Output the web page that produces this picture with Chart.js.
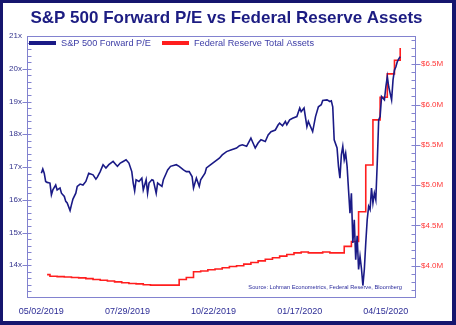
<!DOCTYPE html>
<html>
<head>
<meta charset="utf-8">
<title>S&amp;P 500 Forward P/E vs Federal Reserve Assets</title>
<script src="https://cdn.jsdelivr.net/npm/chart.js@4.4.1/dist/chart.umd.min.js"></script>
<style>
    html, body { margin: 0; padding: 0; background: #fff; }
    #wrap { position: relative; width: 456px; height: 325px; overflow: hidden; }
    #wrap canvas { position: absolute; left: 0; top: 0; }
    #edge {
        position: absolute; left: 0; top: 0; width: 456px; height: 325px;
        box-sizing: border-box; pointer-events: none;
        border: 3px solid #16166e; border-right-width: 4px; border-bottom-width: 4px;
    }
</style>
</head>
<body>
<div id="wrap">
    <canvas id="peFedChart" width="456" height="325"></canvas>
    <div id="edge"></div>
</div>
<script>
// Trading-day index (0 = 05/02/2019) and S&P 500 forward P/E
const peDay = [0, 1, 2, 3, 4, 6, 7, 8, 10, 11, 13, 14, 16, 17, 18, 20, 21, 22, 24, 25,
    27, 29, 31, 33, 36, 38, 39, 41, 43, 45, 47, 50, 52, 53, 55, 57, 59, 61, 63, 64,
    65, 66, 68, 70, 71, 73, 74, 75, 77, 78, 80, 81, 84, 85, 87, 88, 90, 94, 96, 99,
    101, 103, 105, 106, 108, 110, 111, 114, 115, 118, 121, 124, 126, 129, 132, 136, 138, 140, 143, 146,
    147, 149, 151, 153, 156, 158, 160, 163, 165, 166, 168, 170, 171, 173, 175, 178, 180, 181, 183, 185,
    186, 189, 191, 193, 195, 196, 199, 201, 202, 203, 204, 206, 207, 208, 209, 210, 211, 212, 213, 214,
    215, 216, 217, 218, 219, 220, 221, 222, 223, 224, 225, 226, 227, 228, 229, 230, 231, 232, 233, 234,
    235, 236, 237, 238, 239, 240, 241, 242, 243, 244, 245, 246, 247, 248, 249, 250];
const peValue = [16.81, 16.94, 16.81, 16.56, 16.53, 16.51, 16.15, 16.30, 16.45, 16.30, 16.36, 16.20, 16.10, 15.95, 15.90, 15.67, 15.85, 16.02, 16.20, 16.41,
    16.48, 16.45, 16.56, 16.81, 16.76, 16.63, 16.69, 16.86, 17.07, 16.97, 17.07, 17.17, 17.07, 17.02, 17.12, 17.17, 17.22, 17.12, 16.86, 16.51,
    16.27, 16.61, 16.56, 16.66, 16.30, 16.61, 16.20, 16.51, 16.61, 16.59, 16.20, 16.51, 16.41, 16.61, 16.81, 16.91, 17.02, 17.07, 17.02, 16.91,
    16.86, 16.86, 16.71, 16.36, 16.66, 16.41, 16.61, 16.81, 16.97, 17.07, 17.17, 17.27, 17.37, 17.47, 17.52, 17.58, 17.65, 17.68, 17.63, 17.88,
    17.78, 17.58, 17.73, 17.83, 17.78, 17.98, 18.08, 18.13, 18.29, 18.34, 18.26, 18.39, 18.29, 18.44, 18.49, 18.54, 18.80, 18.69, 18.80, 18.23,
    18.39, 18.08, 18.54, 18.84, 18.90, 19.03, 19.05, 19.00, 19.02, 18.84, 17.83, 17.58, 17.02, 16.66, 17.37, 17.63, 17.22, 17.42, 17.02, 16.30,
    15.59, 16.20, 14.68, 15.39, 14.17, 14.90, 13.87, 14.27, 13.90, 13.38, 13.87, 14.68, 15.39, 15.80, 15.70, 16.36, 15.90, 16.20, 16.00, 17.12,
    18.44, 18.54, 19.15, 19.10, 19.05, 19.45, 19.76, 19.45, 19.25, 19.05, 19.66, 19.96, 20.06, 20.22, 20.30, 20.37];

// Weekly Fed balance sheet ($ trillions shown as "M" on the axis)
const fedDay = [4, 6, 11, 16, 21, 26, 31, 36, 41, 46, 51, 56, 61, 66, 71, 76, 81, 86, 91, 96,
    101, 106, 111, 116, 121, 126, 131, 136, 141, 146, 151, 156, 161, 166, 171, 176, 181, 186, 191, 196,
    201, 206, 211, 216, 221, 226, 231, 236, 241, 246, 250];
const fedValue = [3.89, 3.87, 3.865, 3.86, 3.855, 3.85, 3.84, 3.83, 3.82, 3.81, 3.80, 3.79, 3.78, 3.775, 3.765, 3.76, 3.76, 3.76, 3.76, 3.83,
    3.855, 3.925, 3.935, 3.95, 3.96, 3.975, 3.99, 4.00, 4.02, 4.04, 4.06, 4.08, 4.10, 4.12, 4.14, 4.16, 4.17, 4.16, 4.16, 4.17,
    4.16, 4.16, 4.24, 4.30, 4.67, 5.25, 5.81, 6.09, 6.38, 6.55, 6.70];

// Date labels on the x axis and where they sit
const dateTickDays = [0, 60, 120, 180, 240];
const dateTickLabels = ['05/02/2019', '07/29/2019', '10/22/2019', '01/17/2020', '04/15/2020'];
const peTicks = [14, 15, 16, 17, 18, 19, 20, 21];
const fedTicks = [4.0, 4.5, 5.0, 5.5, 6.0, 6.5];

const FONT = "'Liberation Sans', Arial, sans-serif";
const NAVY = '#1a1a86';
const RED = '#ff1e1e';
const FRAME = '#8282cf';

// plot frame, tick marks, title, legend and source note
const decorations = {
    id: 'decorations',
    afterDatasetsDraw(chart) {
        const { ctx, chartArea: a, scales } = chart;
        ctx.save();
        ctx.strokeStyle = FRAME;
        ctx.lineWidth = 1;
        ctx.strokeRect(Math.round(a.left) + 0.5, Math.round(a.top) + 0.5,
            Math.round(a.width) - 1, Math.round(a.height) - 1);

        const L = Math.round(a.left) + 0.5;
        const R = Math.round(a.right) - 0.5;
        ctx.beginPath();
        // left axis: minor ticks every 0.2x, major ones cross the axis
        for (let i = 1; i < 40; i++) {
            const v = 13 + i * 0.2;
            const y = Math.round(scales.y.getPixelForValue(v)) + 0.5;
            const major = i % 5 === 0;
            ctx.moveTo(major ? L - 5 : L, y);
            ctx.lineTo(L + 4, y);
        }
        // right axis: minor every 0.1, major every 0.5
        for (let i = 37; i <= 68; i++) {
            const v = i / 10;
            const y = Math.round(scales.y2.getPixelForValue(v)) + 0.5;
            const major = i % 5 === 0;
            ctx.moveTo(R - 4, y);
            ctx.lineTo(major ? R + 5 : R, y);
        }
        ctx.stroke();
        ctx.restore();
    },
    afterDraw(chart) {
        const { ctx, chartArea: a } = chart;
        ctx.save();

        ctx.fillStyle = '#1c1c82';
        ctx.font = 'bold 17px ' + FONT;
        ctx.textAlign = 'center';
        ctx.textBaseline = 'alphabetic';
        ctx.fillText('S&P 500 Forward P/E vs Federal Reserve Assets', 226.5, 23);

        // legend sits inside the plot, top left
        const items = [
            { color: NAVY, text: 'S&P 500 Forward P/E', x: a.left + 2 },
            { color: RED, text: 'Federal Reserve Total Assets', x: a.left + 135 }
        ];
        ctx.font = '9.2px ' + FONT;
        ctx.textAlign = 'left';
        items.forEach(item => {
            ctx.strokeStyle = item.color;
            ctx.lineWidth = 4;
            ctx.beginPath();
            ctx.moveTo(item.x, a.top + 7);
            ctx.lineTo(item.x + 27, a.top + 7);
            ctx.stroke();
            ctx.fillStyle = '#3c3ca6';
            ctx.fillText(item.text, item.x + 32, a.top + 10);
        });

        ctx.font = '5.7px ' + FONT;
        ctx.fillStyle = '#2c2c9c';
        ctx.textAlign = 'right';
        ctx.fillText('Source: Lohman Econometrics, Federal Reserve, Bloomberg', a.right - 14, a.bottom - 9);
        ctx.restore();
    }
};

const ctx = document.getElementById('peFedChart').getContext('2d');
new Chart(ctx, {
    type: 'line',
    data: {
        datasets: [{
            label: 'S&P 500 Forward P/E',
            data: peDay.map((d, i) => ({ x: d, y: peValue[i] })),
            yAxisID: 'y',
            borderColor: NAVY,
            backgroundColor: NAVY,
            borderWidth: 1.6,
            pointRadius: 0,
            tension: 0,
            order: 0
        }, {
            label: 'Federal Reserve Total Assets',
            data: fedDay.map((d, i) => ({ x: d, y: fedValue[i] })),
            yAxisID: 'y2',
            borderColor: RED,
            backgroundColor: RED,
            borderWidth: 1.6,
            pointRadius: 0,
            stepped: true,
            order: 1
        }]
    },
    options: {
        responsive: false,
        animation: false,
        devicePixelRatio: 1,
        layout: {
            padding: { top: 36, left: 0, right: 0, bottom: 0 }
        },
        plugins: {
            legend: { display: false },
            title: { display: false },
            tooltip: { enabled: false }
        },
        scales: {
            x: {
                type: 'linear',
                min: -10,
                max: 261,
                afterBuildTicks: axis => { axis.ticks = dateTickDays.map(v => ({ value: v })); },
                afterFit: axis => { axis.height = 27; },
                grid: { display: false, drawTicks: false },
                border: { display: false },
                ticks: {
                    autoSkip: false,
                    maxRotation: 0,
                    padding: 8,
                    color: '#2d2d96',
                    font: { family: FONT, size: 9 },
                    callback: value => dateTickLabels[dateTickDays.indexOf(value)]
                }
            },
            y: {
                position: 'left',
                min: 13,
                max: 21,
                afterBuildTicks: axis => { axis.ticks = peTicks.map(v => ({ value: v })); },
                afterFit: axis => { axis.width = 27; },
                grid: { display: false, drawTicks: false },
                border: { display: false },
                ticks: {
                    padding: 5,
                    color: '#34348e',
                    font: { family: FONT, size: 8 },
                    callback: value => value + 'x'
                }
            },
            y2: {
                position: 'right',
                min: 3.6,
                max: 6.85,
                afterBuildTicks: axis => { axis.ticks = fedTicks.map(v => ({ value: v })); },
                afterFit: axis => { axis.width = 40; },
                grid: { display: false, drawTicks: false },
                border: { display: false },
                ticks: {
                    padding: 5,
                    color: '#ff3838',
                    font: { family: FONT, size: 8 },
                    callback: value => '$' + value.toFixed(1) + 'M'
                }
            }
        }
    },
    plugins: [decorations]
});
</script>
</body>
</html>
